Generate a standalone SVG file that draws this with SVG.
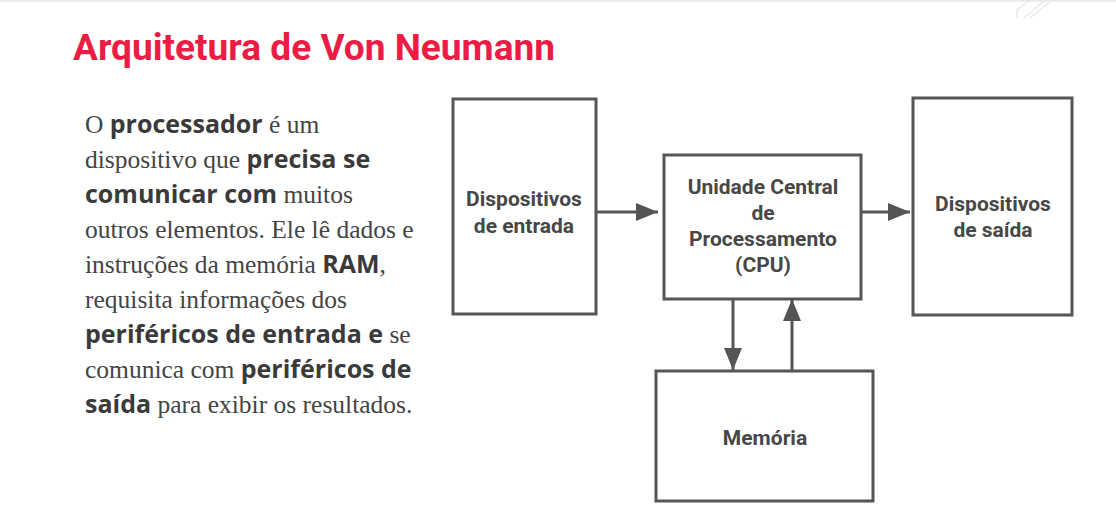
<svg xmlns="http://www.w3.org/2000/svg" width="1116" height="510" viewBox="0 0 1116 510">
  <defs>
    <style>
      .title { font-family: "Roboto", "Liberation Sans", sans-serif; font-weight: 700; font-size: 37px; fill: #EC1C45; }
      .body { font-family: "Liberation Serif", serif; font-size: 25.5px; fill: #444444; }
      .b { font-family: "Open Sans", "Liberation Sans", sans-serif; font-weight: 700; font-size: 25px; fill: #3a3a3a; }
      .box { fill: #ffffff; stroke: #555555; stroke-width: 3; }
      .lbl { font-family: "Roboto", "Liberation Sans", sans-serif; font-weight: 700; font-size: 21px; fill: #474747; text-anchor: middle; }
      .wire { stroke: #555555; stroke-width: 3; fill: none; }
      .deco { stroke: #e6e6e6; stroke-width: 1.2; fill: none; }
    </style>
    <marker id="head" viewBox="0 0 22 18" refX="22" refY="9" markerWidth="22" markerHeight="18" markerUnits="userSpaceOnUse" orient="auto">
      <path d="M0,0 L22,9 L0,18 Z" fill="#555555"/>
    </marker>
  </defs>

  <rect width="1116" height="510" fill="#ffffff"/>
  <!-- top edge band and corner ornament -->
  <rect x="0" y="0" width="1116" height="2" fill="#ececec"/>
  <path class="deco" d="M1017,18 L1017,10 L1030,0 M1024,18 L1045,0 M1030,18 L1050,2"/>

  <text class="title" x="73" y="60" textLength="482" lengthAdjust="spacingAndGlyphs">Arquitetura de Von Neumann</text>

  <!-- descriptive paragraph -->
  <g id="paragraph">
    <text class="body" x="85" y="133">O <tspan class="b">processador</tspan> é um</text>
    <text class="body" x="85" y="168">dispositivo que <tspan class="b">precisa se</tspan></text>
    <text class="body" x="85" y="203"><tspan class="b">comunicar com</tspan> muitos</text>
    <text class="body" x="85" y="238">outros elementos. Ele lê dados e</text>
    <text class="body" x="85" y="273">instruções da memória <tspan class="b">RAM</tspan>,</text>
    <text class="body" x="85" y="308">requisita informações dos</text>
    <text class="body" x="85" y="343"><tspan class="b">periféricos de entrada e</tspan> se</text>
    <text class="body" x="85" y="378">comunica com <tspan class="b">periféricos de</tspan></text>
    <text class="body" x="85" y="413"><tspan class="b">saída</tspan> para exibir os resultados.</text>
  </g>

  <!-- connectors -->
  <g id="connectors">
    <line class="wire" x1="596" y1="212" x2="658" y2="212" marker-end="url(#head)"/>
    <line class="wire" x1="849" y1="212" x2="910" y2="212" marker-end="url(#head)"/>
    <line class="wire" x1="733" y1="299" x2="733" y2="370" marker-end="url(#head)"/>
    <line class="wire" x1="792" y1="371" x2="792" y2="299" marker-end="url(#head)"/>
  </g>

  <g id="entrada">
    <rect class="box" x="453" y="99" width="143" height="215"/>
    <text class="lbl" x="524" y="206">Dispositivos</text>
    <text class="lbl" x="524" y="233">de entrada</text>
  </g>

  <g id="cpu">
    <rect class="box" x="664" y="155" width="197" height="144"/>
    <text class="lbl" x="763" y="194">Unidade Central</text>
    <text class="lbl" x="763" y="220">de</text>
    <text class="lbl" x="763" y="246">Processamento</text>
    <text class="lbl" x="763" y="272">(CPU)</text>
  </g>

  <g id="saida">
    <rect class="box" x="913" y="98" width="159" height="217"/>
    <text class="lbl" x="993" y="211">Dispositivos</text>
    <text class="lbl" x="993" y="237">de saída</text>
  </g>

  <g id="memoria">
    <rect class="box" x="656" y="371" width="217" height="130"/>
    <text class="lbl" x="765" y="445">Memória</text>
  </g>
</svg>
